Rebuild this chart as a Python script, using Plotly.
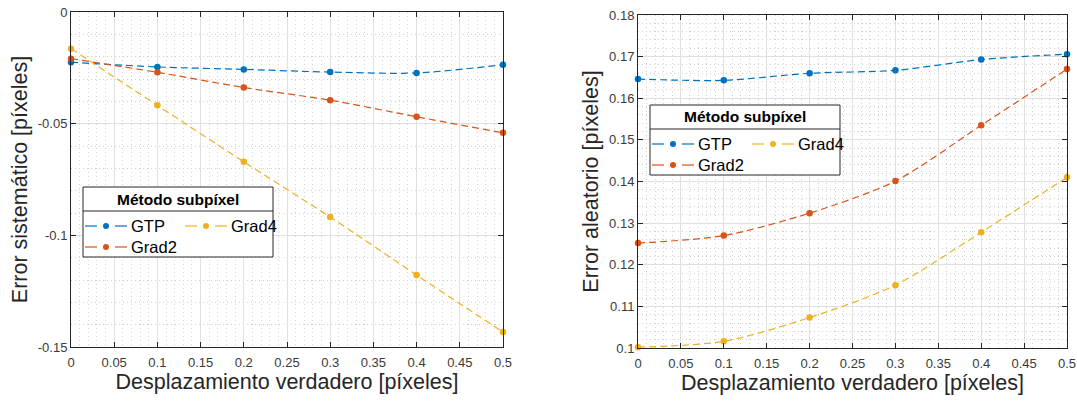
import plotly.graph_objects as go

# ---------------- data ----------------
desplazamiento = [0, 0.1, 0.2, 0.3, 0.4, 0.5]

sis_gtp = [-0.0225, -0.0246, -0.0257, -0.0269, -0.0273, -0.0236]
sis_grad2 = [-0.0209, -0.0270, -0.0338, -0.0395, -0.0469, -0.0541]
sis_grad4 = [-0.0164, -0.0418, -0.0671, -0.0918, -0.1178, -0.1433]

ale_gtp = [0.1646, 0.1643, 0.1660, 0.1667, 0.1693, 0.1706]
ale_grad2 = [0.1252, 0.1270, 0.1324, 0.1401, 0.1535, 0.1670]
ale_grad4 = [0.1002, 0.1016, 0.1073, 0.1151, 0.1278, 0.1410]

metodos = ["GTP", "Grad2", "Grad4"]

x_tickvals = [0, 0.05, 0.1, 0.15, 0.2, 0.25, 0.3, 0.35, 0.4, 0.45, 0.5]
x_ticktext = ["0", "0.05", "0.1", "0.15", "0.2", "0.25", "0.3", "0.35", "0.4", "0.45", "0.5"]
y1_tickvals = [-0.15, -0.1, -0.05, 0]
y1_ticktext = ["-0.15", "-0.1", "-0.05", "0"]
y2_tickvals = [0.1, 0.11, 0.12, 0.13, 0.14, 0.15, 0.16, 0.17, 0.18]
y2_ticktext = ["0.1", "0.11", "0.12", "0.13", "0.14", "0.15", "0.16", "0.17", "0.18"]

# ---------------- style ----------------
W, H = 1077, 405
FONT = "Liberation Sans, Arial, Helvetica, sans-serif"
AX = "#262626"
TICK = "#3a3a3a"
colors = {"GTP": "#0072BD", "Grad2": "#D95319", "Grad4": "#EDB120"}

def px_x(p):
    return p / W

def px_y(p):
    return 1 - p / H

fig = go.Figure()

def add_series(xa, ya, yvals, name):
    fig.add_trace(go.Scatter(
        x=desplazamiento, y=yvals, name=name, mode="lines+markers",
        xaxis=xa, yaxis=ya, showlegend=False, cliponaxis=False,
        line=dict(color=colors[name], width=1.2, dash="7px,4px",
                  shape="spline", smoothing=0.8),
        marker=dict(color=colors[name], size=6.5),
    ))

for name, vals in zip(metodos, [sis_gtp, sis_grad2, sis_grad4]):
    add_series("x", "y", vals, name)
for name, vals in zip(metodos, [ale_gtp, ale_grad2, ale_grad4]):
    add_series("x2", "y2", vals, name)

def axis_common():
    return dict(
        showline=True, linecolor=AX, linewidth=1, mirror="ticks",
        ticks="inside", ticklen=5, tickcolor=AX, tickwidth=1,
        showgrid=True, gridcolor="#e0e0e0", gridwidth=1, zeroline=False,
        tickfont=dict(family=FONT, size=13, color=TICK),
        automargin=False, layer="above traces",
    )

def minor(dt, t0):
    return dict(showgrid=True, gridcolor="#d2d2d2", griddash="1px,3px",
                gridwidth=1, dtick=dt, tick0=t0, ticks="")

xt = "Desplazamiento verdadero [píxeles]"
TF = dict(family=FONT, size=21.5, color=AX)

fig.update_layout(
    width=W, height=H, template="none",
    paper_bgcolor="white", plot_bgcolor="white",
    margin=dict(l=0, r=0, t=0, b=0),
    font=dict(family=FONT, color=AX),
    xaxis=dict(**axis_common(), domain=[px_x(71), px_x(503)], anchor="y",
               range=[0, 0.5], tickmode="array", tickvals=x_tickvals, ticktext=x_ticktext,
               ticklabelstandoff=3, minor=minor(0.01, 0),
               title=dict(text=xt, font=TF, standoff=5)),
    yaxis=dict(**axis_common(), domain=[px_y(347), px_y(12)], anchor="x",
               range=[-0.15, 0], tickmode="array", tickvals=y1_tickvals, ticktext=y1_ticktext,
               minor=minor(0.01, 0),
               title=dict(text="Error sistemático [píxeles]", font=TF, standoff=4)),
    xaxis2=dict(**axis_common(), domain=[px_x(638), px_x(1067)], anchor="y2",
                range=[0, 0.5], tickmode="array", tickvals=x_tickvals, ticktext=x_ticktext,
                ticklabelstandoff=3, minor=minor(0.01, 0),
                title=dict(text=xt, font=TF, standoff=5)),
    yaxis2=dict(**axis_common(), domain=[px_y(348), px_y(15)], anchor="x2",
                range=[0.1, 0.18], tickmode="array", tickvals=y2_tickvals, ticktext=y2_ticktext,
                minor=minor(0.002, 0.1),
                title=dict(text="Error aleatorio [píxeles]", font=TF, standoff=4)),
)

# ---------------- manual legends (two-column, MATLAB style) ----------------
shapes = []
annotations = []

def add_legend(bx, by):
    bw, bh = 190, 70
    shapes.append(dict(type="rect", xref="paper", yref="paper", layer="above",
                       x0=px_x(bx), x1=px_x(bx + bw), y0=px_y(by + bh), y1=px_y(by),
                       line=dict(color=AX, width=1), fillcolor="white"))
    shapes.append(dict(type="line", xref="paper", yref="paper", layer="above",
                       x0=px_x(bx), x1=px_x(bx + bw), y0=px_y(by + 24), y1=px_y(by + 24),
                       line=dict(color=AX, width=1)))
    annotations.append(dict(xref="paper", yref="paper", x=px_x(bx + bw / 2), y=px_y(by + 12),
                            text="<b>Método subpíxel</b>", showarrow=False,
                            xanchor="center", yanchor="middle",
                            font=dict(family=FONT, size=15.5, color="black")))
    entries = [("GTP", 2, 39), ("Grad4", 102, 39), ("Grad2", 2, 60)]
    for name, ox, oy in entries:
        c = colors[name]
        gx, gy = bx + ox, by + oy
        for a, b in [(0, 12), (30, 42)]:
            shapes.append(dict(type="line", xref="paper", yref="paper", layer="above",
                               x0=px_x(gx + a), x1=px_x(gx + b), y0=px_y(gy), y1=px_y(gy),
                               line=dict(color=c, width=1.2)))
        shapes.append(dict(type="circle", xref="paper", yref="paper", layer="above",
                           xsizemode="pixel", ysizemode="pixel",
                           xanchor=px_x(gx + 21), yanchor=px_y(gy),
                           x0=-3, x1=3, y0=-3, y1=3,
                           line=dict(color=c, width=0), fillcolor=c))
        annotations.append(dict(xref="paper", yref="paper", x=px_x(gx + 44), y=px_y(gy),
                                text=name, showarrow=False, xanchor="left", yanchor="middle",
                                font=dict(family=FONT, size=16.5, color="black")))

add_legend(83, 187)
add_legend(650, 105)

fig.update_layout(shapes=shapes, annotations=annotations)

fig.write_html("out.html")
